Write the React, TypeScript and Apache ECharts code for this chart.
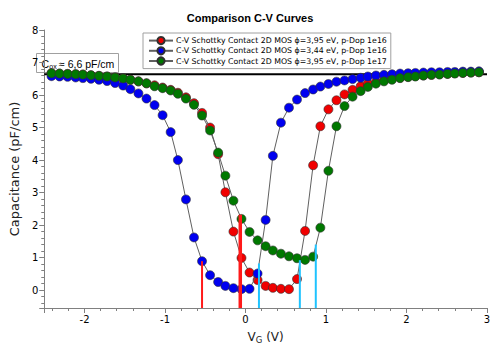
import React, { useEffect, useRef } from 'react';
import * as echarts from 'echarts';

const FONT = "'DejaVu Sans', sans-serif";
const ALT_FONT = "'Liberation Sans', sans-serif";

const gateVoltage = [
  -2.41, -2.31, -2.21, -2.11, -2.02, -1.92, -1.82, -1.72, -1.62, -1.52,
  -1.43, -1.33, -1.23, -1.13, -1.03, -0.93, -0.84, -0.74, -0.64, -0.54,
  -0.44, -0.34, -0.25, -0.15, -0.05, 0.05, 0.15, 0.25, 0.34, 0.44,
  0.54, 0.64, 0.74, 0.84, 0.93, 1.03, 1.13, 1.23, 1.33, 1.43,
  1.52, 1.62, 1.72, 1.82, 1.92, 2.02, 2.11, 2.21, 2.31, 2.41,
  2.51, 2.6, 2.7, 2.8, 2.9,
];

const capRed = [
  6.67, 6.66, 6.65, 6.64, 6.63, 6.61, 6.59, 6.57, 6.54, 6.51,
  6.47, 6.42, 6.36, 6.3, 6.23, 6.16, 6.07, 5.93, 5.75, 5.45,
  5.0, 4.18, 3.01, 1.8, 0.99, 0.54, 0.31, 0.13, 0.07, 0.04,
  0.03, 0.34, 1.82, 3.84, 5.04, 5.56, 5.84, 6.02, 6.16, 6.27,
  6.35, 6.4, 6.45, 6.5, 6.53, 6.56, 6.58, 6.6, 6.62, 6.64,
  6.65, 6.67, 6.68, 6.69, 6.7,
];

const capBlue = [
  6.58, 6.57, 6.56, 6.54, 6.52, 6.5, 6.47, 6.43, 6.37, 6.29,
  6.18, 6.05, 5.89, 5.69, 5.38, 4.86, 4.0, 2.79, 1.62, 0.89,
  0.46, 0.25, 0.13, 0.06, 0.03, 0.04, 0.51, 2.16, 4.13, 5.15,
  5.61, 5.86, 6.06, 6.17, 6.26, 6.34, 6.41, 6.45, 6.49, 6.53,
  6.57, 6.6, 6.62, 6.64, 6.66, 6.67, 6.68, 6.69, 6.7, 6.7,
  6.71, 6.71, 6.72, 6.72, 6.73,
];

const capGreen = [
  6.67, 6.66, 6.65, 6.64, 6.63, 6.61, 6.59, 6.57, 6.54, 6.51,
  6.47, 6.42, 6.36, 6.27, 6.21, 6.14, 6.04, 5.89, 5.7, 5.37,
  4.91, 4.23, 3.52, 2.75, 2.19, 1.79, 1.53, 1.35, 1.22, 1.12,
  1.04, 0.98, 0.93, 1.03, 1.92, 3.67, 5.04, 5.66, 5.95, 6.12,
  6.25, 6.35, 6.42, 6.47, 6.52, 6.55, 6.57, 6.6, 6.62, 6.63,
  6.65, 6.66, 6.68, 6.69, 6.7,
];

const seriesNames = [
  'C-V Schottky Contact 2D MOS \u03d5=3,95 eV, p-Dop 1e16',
  'C-V Schottky Contact 2D MOS \u03d5=3,44 eV, p-Dop 1e16',
  'C-V Schottky Contact 2D MOS \u03d5=3,95 eV, p-Dop 1e17',
];
const seriesColors = ['#f00000', '#0000f0', '#007800'];

// [V, top C]
const redMarkers = [[-0.54, 0.89], [-0.065, 2.32]];
const redWidths = [2, 3.5];
const cyanMarkers = [[0.167, 0.82], [0.675, 0.92], [0.873, 1.4]];
const coxLevel = 6.64;

const xMin = -2.5;
const xMax = 3;
const yMin = -0.55;
const yMax = 8;

export default function App() {
  const ref = useRef<HTMLDivElement>(null);
  useEffect(() => {
    if (!ref.current) return;
    const chart = echarts.init(ref.current, null, { renderer: 'svg' });
    const caps = [capRed, capBlue, capGreen];
    const dataSeries = caps.map((c, i) => ({
      type: 'line',
      name: seriesNames[i],
      data: gateVoltage.map((v, j) => [v, c[j]]),
      symbol: 'circle',
      symbolSize: 9,
      showSymbol: true,
      lineStyle: { color: '#606060', width: 1 },
      itemStyle: { color: seriesColors[i], borderColor: '#303030', borderWidth: 0.6 },
      z: 3 + i,
      silent: true,
    }));
    const vLines: any[] = [];
    redMarkers.forEach((m, i) => {
      vLines.push({
        type: 'line',
        data: [[m[0], yMin], [m[0], m[1]]],
        symbol: 'none',
        lineStyle: { color: '#ff1a1a', width: redWidths[i] },
        z: 10,
        silent: true,
      });
    });
    cyanMarkers.forEach((m) => {
      vLines.push({
        type: 'line',
        data: [[m[0], yMin], [m[0], m[1]]],
        symbol: 'none',
        lineStyle: { color: '#1ec3ff', width: 2 },
        z: 10,
        silent: true,
      });
    });
    const coxLine = {
      type: 'line',
      data: [[xMin, coxLevel], [xMax, coxLevel]],
      symbol: 'none',
      lineStyle: { color: '#000', width: 2 },
      z: 2,
      silent: true,
    };
    chart.setOption({
      animation: false,
      backgroundColor: '#fff',
      textStyle: { fontFamily: FONT },
      title: {
        text: 'Comparison C-V Curves',
        left: 'center',
        top: 7,
        textStyle: { fontFamily: ALT_FONT, fontSize: 11, fontWeight: 'bold', color: '#000' },
      },
      legend: {
        data: seriesNames,
        orient: 'vertical',
        left: 143,
        top: 33,
        itemWidth: 24,
        itemHeight: 9,
        itemGap: 1,
        padding: [3, 4, 3, 5],
        backgroundColor: '#fff',
        borderColor: '#a0a0a0',
        borderWidth: 1,
        borderRadius: 0,
        textStyle: { fontFamily: FONT, fontSize: 7.8, color: '#000', padding: [0, 0, 0, -2] },
      },
      grid: { left: 33, right: 13, top: 30, bottom: 40 },
      xAxis: {
        type: 'value',
        min: xMin,
        max: xMax,
        splitNumber: 5,
        name: '{a|V}{b|G}{a| (V)}',
        nameLocation: 'middle',
        nameGap: 21,
        nameTextStyle: {
          rich: {
            a: { fontFamily: FONT, fontSize: 12, color: '#222' },
            b: { fontFamily: FONT, fontSize: 8.5, color: '#222', padding: [6, 0, 0, 0] },
          },
        },
        axisLine: { show: true, onZero: false, lineStyle: { color: '#808080', width: 1 } },
        axisTick: { show: true, length: 5, lineStyle: { color: '#808080' } },
        minorTick: { show: true, splitNumber: 5, length: 3, lineStyle: { color: '#808080' } },
        splitLine: { show: false },
        axisLabel: { fontFamily: FONT, fontSize: 10, color: '#000', margin: 6, showMinLabel: false },
      },
      yAxis: {
        type: 'value',
        min: yMin,
        max: yMax,
        splitNumber: 8,
        name: 'Capacitance (pF/cm)',
        nameLocation: 'middle',
        nameGap: 22,
        nameTextStyle: { fontFamily: FONT, fontSize: 13, color: '#222' },
        axisLine: { show: true, onZero: false, lineStyle: { color: '#808080', width: 1 } },
        axisTick: { show: true, length: 5, lineStyle: { color: '#808080' } },
        minorTick: { show: true, splitNumber: 5, length: 3, lineStyle: { color: '#808080' } },
        splitLine: { show: false },
        axisLabel: { fontFamily: FONT, fontSize: 10, color: '#000', margin: 6, showMinLabel: false },
      },
      graphic: [
        {
          type: 'group',
          left: 36,
          top: 53,
          z: 20,
          children: [
            {
              type: 'rect',
              shape: { x: 0, y: 0, width: 82, height: 19 },
              style: { fill: '#fff', stroke: '#a0a0a0', lineWidth: 1 },
            },
            {
              type: 'text',
              x: 5,
              y: 10,
              style: {
                text: 'C',
                fontFamily: ALT_FONT,
                fontSize: 10.5,
                fill: '#000',
                verticalAlign: 'middle',
              },
            },
            {
              type: 'text',
              x: 12.8,
              y: 13,
              style: {
                text: 'ox',
                fontFamily: ALT_FONT,
                fontSize: 7,
                fill: '#000',
                verticalAlign: 'middle',
              },
            },
            {
              type: 'text',
              x: 22.5,
              y: 10,
              style: {
                text: '\u2248 6,6 pF/cm',
                fontFamily: ALT_FONT,
                fontSize: 10.5,
                fill: '#000',
                verticalAlign: 'middle',
              },
            },
          ],
        },
      ],
      series: [coxLine, ...dataSeries, ...vLines],
    });
    return () => chart.dispose();
  }, []);
  return (
    <div
      ref={ref}
      style={{ position: 'absolute', left: 0, top: 0, width: 500, height: 349 }}
    />
  );
}
